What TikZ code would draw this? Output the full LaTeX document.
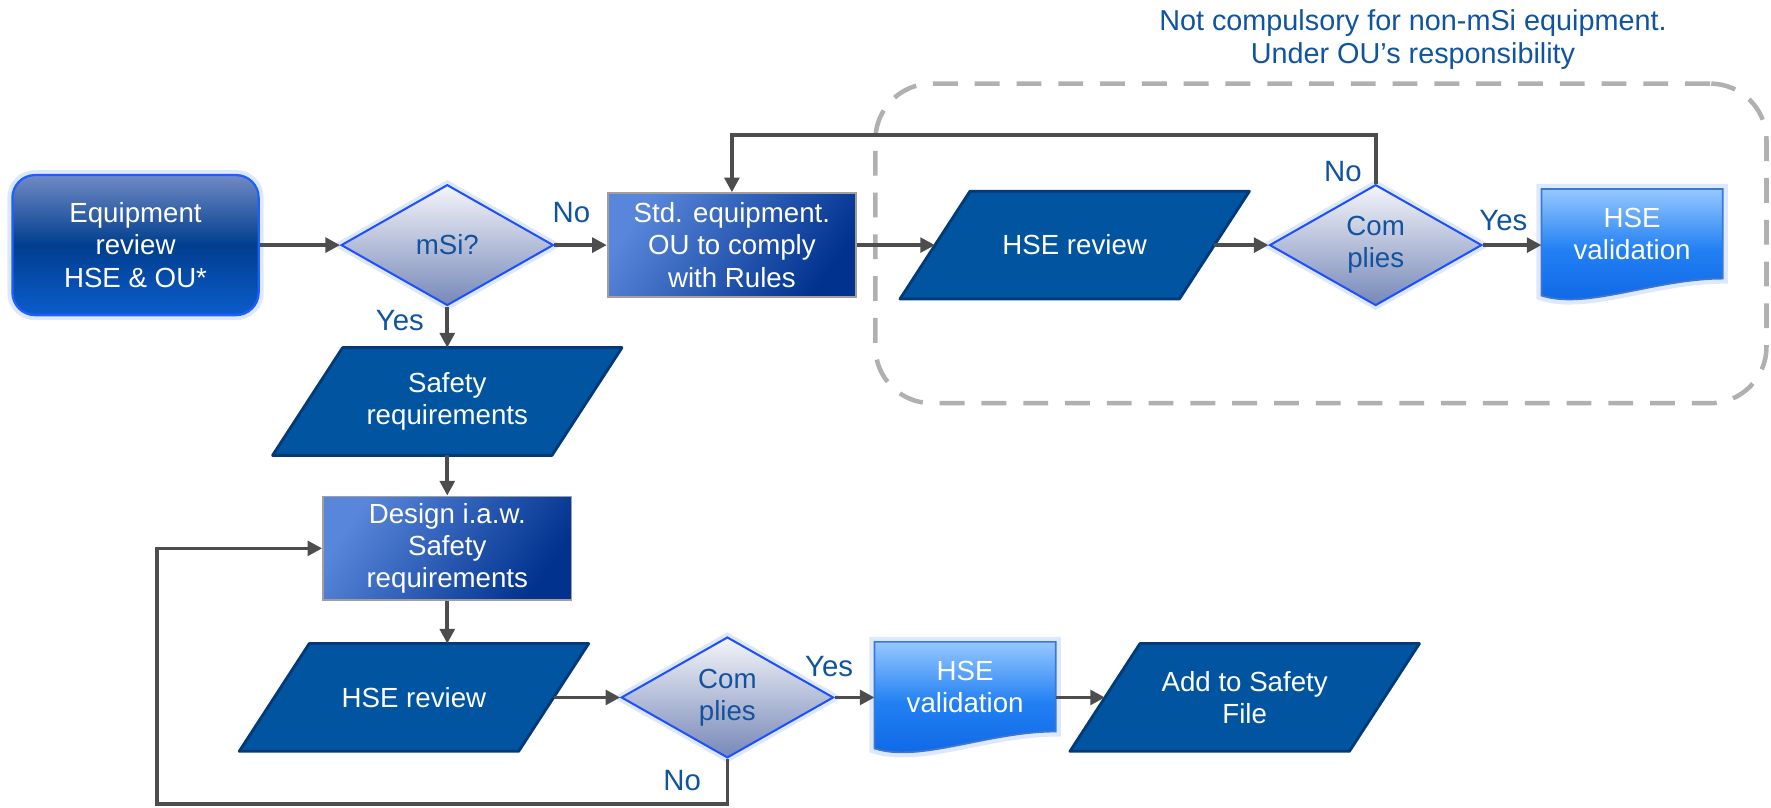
\documentclass[tikz,border=0pt]{standalone}
\usepackage{fontspec}
\setmainfont{Liberation Sans}
\usetikzlibrary{shapes.geometric,arrows.meta,calc,shadings}
\pgfdeclarelayer{bg}
\pgfsetlayers{bg,main}
\definecolor{conn}{RGB}{77,77,77}
\definecolor{labc}{RGB}{16,84,160}
\definecolor{eqtop}{RGB}{112,138,196}
\definecolor{eqmid}{RGB}{0,62,142}
\definecolor{eqbot}{RGB}{12,92,205}
\definecolor{eqborder}{RGB}{30,95,255}
\definecolor{glowc}{RGB}{190,210,250}
\definecolor{decTop}{RGB}{244,245,250}
\definecolor{decBot}{RGB}{118,136,184}
\definecolor{decborder}{RGB}{30,80,255}
\definecolor{dectext}{RGB}{20,82,158}
\definecolor{procA}{RGB}{88,134,218}
\definecolor{procB}{RGB}{0,50,142}
\definecolor{procborder}{RGB}{160,160,160}
\definecolor{parafillc}{RGB}{0,84,160}
\definecolor{paraborder}{RGB}{0,58,120}
\definecolor{docTop}{RGB}{150,200,255}
\definecolor{docMid}{RGB}{34,128,243}
\definecolor{docBot}{RGB}{12,100,228}
\definecolor{docborder}{RGB}{60,120,210}
\definecolor{framec}{RGB}{176,176,176}
\tikzset{
  base/.style={font=\fontsize{24.5}{28.5}\selectfont, align=center, inner sep=0pt},
  startbox/.style={base, rectangle, rounded corners=20pt, minimum width=218pt, minimum height=124pt,
    draw=eqborder, line width=2pt, top color=eqtop, bottom color=eqbot, middle color=eqmid, text=white,
    preaction={draw=glowc, line width=9pt, opacity=0.5}},
  dec/.style={base, diamond, aspect=1.76, minimum width=188pt, minimum height=107pt,
    draw=decborder, line width=1.8pt, top color=decTop, bottom color=decBot, text=dectext,
    preaction={draw=glowc, line width=8pt, opacity=0.5}},
  proc/.style={base, rectangle, minimum width=220pt, minimum height=92pt, draw=procborder, line width=1.5pt,
    top color=procA, bottom color=procB, shading angle=55, text=white},
  para/.style={base, rectangle, minimum width=247pt, minimum height=95pt, text=white},
  parafill/.style={fill=parafillc, draw=paraborder, line width=2.5pt, line join=round},
  doc/.style={base, rectangle, minimum width=160pt, minimum height=79pt, text=white},
  docfill/.style={top color=docTop, bottom color=docBot, middle color=docMid, draw=docborder, line width=1.5pt,
    preaction={draw=glowc, line width=9pt, opacity=0.5}},
  arr/.style={draw=conn, line width=3.2pt, -{Triangle[length=13pt,width=13pt]}},
  lab/.style={font=\fontsize{26}{30}\selectfont, text=labc, inner sep=0pt},
  note/.style={font=\fontsize{25.5}{30}\selectfont, text=labc, align=center, inner sep=0pt},
  dashframe/.style={draw=framec, line width=4pt, dash pattern=on 22pt off 15pt, rounded corners=50pt,
    minimum width=789pt, minimum height=283pt, inner sep=0pt}
}
\newcommand\drawpara[1]{\path[parafill] ($(#1.north west)+(31,0)$) -- ($(#1.north east)+(31,0)$) -- ($(#1.south east)+(-31,0)$) -- ($(#1.south west)+(-31,0)$) -- cycle;}
\newcommand\drawdoc[1]{\path[docfill] (#1.south east) -- (#1.north east) -- (#1.north west) -- ($(#1.south west)+(0,15)$) .. controls ($(#1.south west)+(40,28)$) and ($(#1.south east)+(-60,0)$) .. (#1.south east) -- cycle;}
\begin{document}
\begin{tikzpicture}[x=1pt,y=-1pt]
\useasboundingbox (0,0) rectangle (1568,715);
% nodes
\node[startbox] (eq) at (120,217) {Equipment\\review\\HSE \& OU*};
\node[dec] (msi) at (396,217) {mSi?};
\node[proc] (std) at (648,217) {Std. equipment.\\OU to comply\\with Rules};
\node[para] (hr1) at (951.5,217) {HSE review};
\node[dec] (c1) at (1218,217) {Com\\plies};
\node[doc] (v1) at (1445,207) {HSE\\validation};
\node[para] (saf) at (396,355.5) {Safety\\requirements};
\node[proc] (des) at (396,485.5) {Design i.a.w.\\Safety\\requirements};
\node[para] (hr2) at (366.5,617.5) {HSE review};
\node[dec] (c2) at (644,617.5) {Com\\plies};
\node[doc] (v2) at (854.5,608) {HSE\\validation};
\node[para] (add) at (1102,617.5) {Add to Safety\\File};
\node[dashframe] (zone) at (1169.5,215.5) {};
\node[note] (nt) at (1251,35) {Not compulsory for non-mSi equipment.\\Under OU’s responsibility};
% shapes behind text
\begin{pgfonlayer}{bg}
\drawpara{hr1}
\drawpara{saf}
\drawpara{hr2}
\drawpara{add}
\drawdoc{v1}
\drawdoc{v2}
\end{pgfonlayer}
% connectors
\draw[arr] (eq.east) -- (msi.west);
\draw[arr] (msi.east) -- (std.west);
\draw[arr] (std.east) -- (hr1.west);
\draw[arr] (hr1.east) -- (c1.west);
\draw[arr] (c1.east) -- (c1.east -| v1.west);
\draw[arr] (c1.north) -- ++(0,-43) -| (std.north);
\draw[arr] (msi.south) -- (saf.north);
\draw[arr] (saf.south) -- (des.north);
\draw[arr] (des.south) -- (des.south |- hr2.north);
\draw[arr] (hr2.east) -- (c2.west);
\draw[arr] (c2.east) -- (c2.east -| v2.west);
\draw[arr] (v2.east |- add.west) -- (add.west);
\coordinate (lb) at (139,712);
\draw[arr] (c2.south) |- (lb) |- (des.west);
% labels
\node[lab] (lno1) at (506,188) {No};
\node[lab] (lyes1) at (354,284) {Yes};
\node[lab] (lno2) at (1189,152) {No};
\node[lab] (lyes2) at (1331,195) {Yes};
\node[lab] (lyes3) at (734,590) {Yes};
\node[lab] (lno3) at (604,691) {No};
\end{tikzpicture}
\end{document}
